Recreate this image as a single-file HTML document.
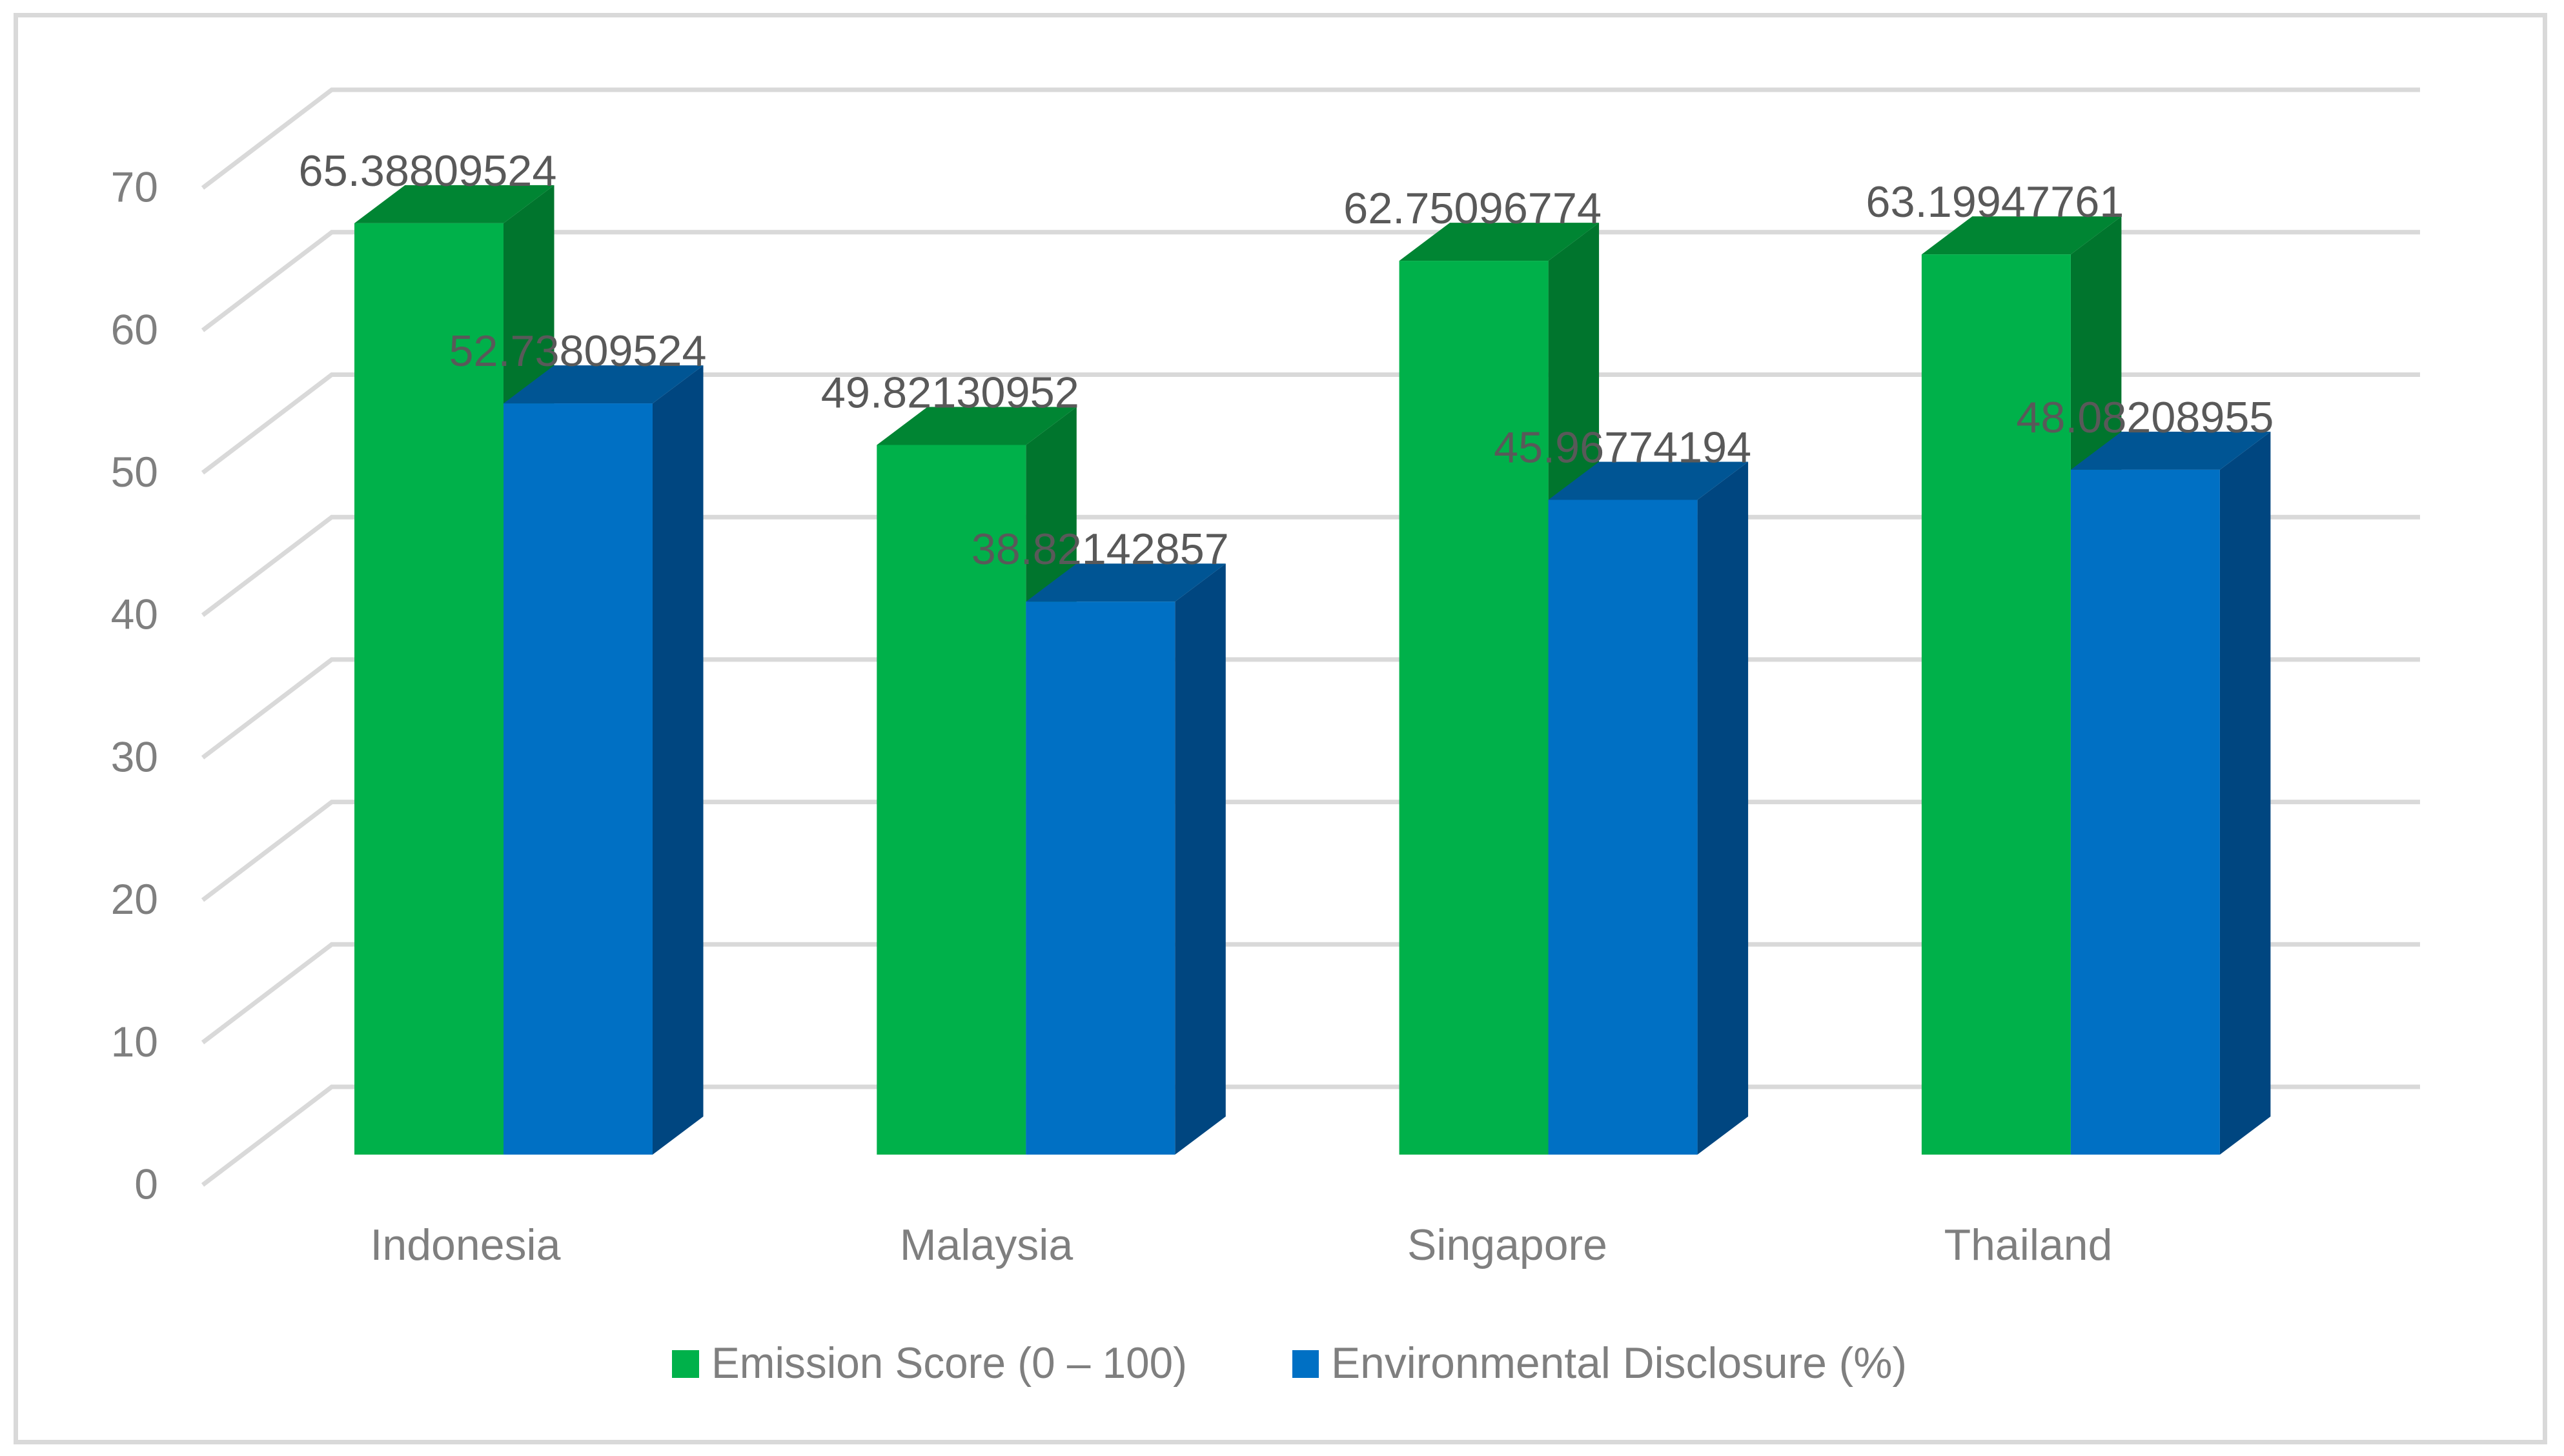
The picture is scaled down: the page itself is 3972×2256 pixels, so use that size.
<!DOCTYPE html>
<html lang="en">
<head>
<meta charset="utf-8">
<title>Emission Score and Environmental Disclosure by Country</title>
<style>
html,body{margin:0;padding:0;background:#fff;width:3972px;height:2256px;overflow:hidden}
svg{display:block}
text{font-family:"Liberation Sans",sans-serif}
</style>
</head>
<body>
<svg id="chart" xmlns="http://www.w3.org/2000/svg" width="3972" height="2256" viewBox="0 0 3972 2256">
  <rect x="0" y="0" width="3972" height="2256" fill="#ffffff"/>
  <rect x="24.5" y="23.5" width="3918" height="2211" fill="#ffffff" stroke="#d9d9d9" stroke-width="7"/>
  <g id="grid"></g>
  <g id="yaxis"></g>
  <g id="bars"></g>
  <g id="xaxis"></g>
  <g id="labels"></g>
  <g>
    <rect x="1041" y="2092" width="42" height="43" fill="#00b14a"/>
    <text x="1102" y="2135" font-size="68" fill="#7f7f7f" textLength="737" lengthAdjust="spacingAndGlyphs">Emission Score (0 – 100)</text>
    <rect x="2002" y="2092" width="41" height="43" fill="#0070c4"/>
    <text x="2062" y="2135" font-size="68" fill="#7f7f7f" textLength="892" lengthAdjust="spacingAndGlyphs">Environmental Disclosure (%)</text>
  </g>
</svg>
<script>
const categories = ["Indonesia", "Malaysia", "Singapore", "Thailand"];
const emissionScore = [65.38809524, 49.82130952, 62.75096774, 63.19947761];
const environmentalDisclosure = [52.73809524, 38.82142857, 45.96774194, 48.08208955];
const yTicks = [0, 10, 20, 30, 40, 50, 60, 70];

const NS = "http://www.w3.org/2000/svg";
const baseY = 1789, unit = 22.07, depthX = 78.5, depthY = 59;
const band0 = 549, bandStep = 809.3, barW = 231;
const floorDX = 200, floorDY = 152, wallEnd = 3749;

function y(v) { return baseY - v * unit; }
function xBand(i) { return band0 + bandStep * i; }
function xCat(i) { return 721 + 807 * i; }

function mk(tag, parent, attrs, txt) {
  const el = document.createElementNS(NS, tag);
  for (const k in attrs) el.setAttribute(k, attrs[k]);
  if (txt !== undefined) el.textContent = txt;
  parent.appendChild(el);
  return el;
}

const grid = document.getElementById("grid");
const yaxis = document.getElementById("yaxis");
yTicks.forEach(function (t) {
  const wy = y(t) - 105;
  const g = mk("polyline", grid, {
    points: (514 - floorDX) + "," + (wy + floorDY) + " 514," + wy + " " + wallEnd + "," + wy,
    fill: "none", stroke: "#d9d9d9", "stroke-width": 7, "stroke-linejoin": "miter"
  });
  
  
  const lb = mk("text", yaxis, {
    x: 245, y: wy + 173.5, "font-size": 66, fill: "#7f7f7f", "text-anchor": "end"
  }, String(t));
  
  
});

function drawBar(parent, x0, v, front, top, side, name) {
  const yt = y(v);
  const x1 = x0 + barW;
  const s = mk("polygon", parent, {
    points: x1 + "," + yt + " " + (x1 + depthX) + "," + (yt - depthY) + " " + (x1 + depthX) + "," + (baseY - depthY) + " " + x1 + "," + baseY,
    fill: side
  });
  
  
  const t = mk("polygon", parent, {
    points: x0 + "," + yt + " " + (x0 + depthX) + "," + (yt - depthY) + " " + (x1 + depthX) + "," + (yt - depthY) + " " + x1 + "," + yt,
    fill: top
  });
  
  
  const f = mk("rect", parent, { x: x0, y: yt, width: barW, height: baseY - yt, fill: front });
  
  
}

const bars = document.getElementById("bars");
const xaxis = document.getElementById("xaxis");
const labels = document.getElementById("labels");
categories.forEach(function (c, i) {
  const key = c.toLowerCase();
  const x0 = xBand(i);
  drawBar(bars, x0, emissionScore[i], "#00b14a", "#008533", "#00752d", "bar-emission-" + key);
  drawBar(bars, x0 + barW, environmentalDisclosure[i], "#0070c4", "#005594", "#004680", "bar-disclosure-" + key);

  const cl = mk("text", xaxis, {
    x: xCat(i), y: 1952, "font-size": 68, fill: "#7f7f7f", "text-anchor": "middle"
  }, c);
  
  
});
categories.forEach(function (c, i) {
  const key = c.toLowerCase();
  const x0 = xBand(i);
  const a = mk("text", labels, {
    x: x0 + barW / 2 - 202, y: y(emissionScore[i]) - 60 + 2, "font-size": 68, fill: "#595959",
    textLength: 400, lengthAdjust: "spacingAndGlyphs"
  }, String(emissionScore[i]));
  
  
  const b = mk("text", labels, {
    x: x0 + barW * 1.5 - 200, y: y(environmentalDisclosure[i]) - 60 + 2, "font-size": 68, fill: "#595959",
    textLength: 399, lengthAdjust: "spacingAndGlyphs"
  }, String(environmentalDisclosure[i]));
  
  
});
</script>
</body>
</html>
